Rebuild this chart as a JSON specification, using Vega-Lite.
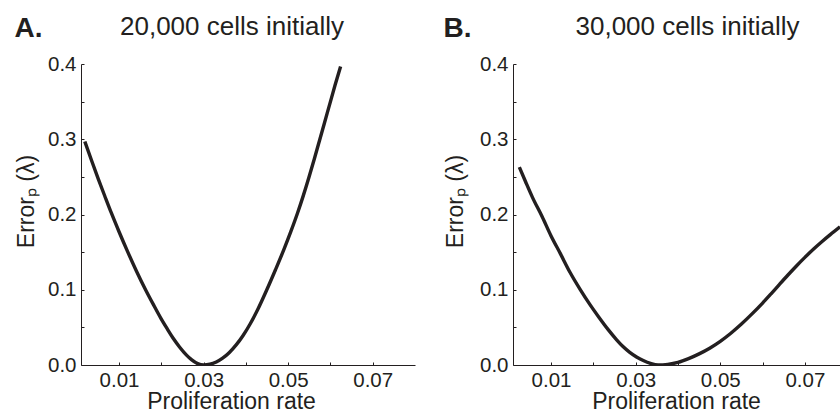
{
  "$schema": "https://vega.github.io/schema/vega-lite/v6.json",
  "padding": {"left": 14, "top": 13, "right": 0, "bottom": 0},
  "bounds": "flush",
  "spacing": 98,
  "background": "white",
  "config": {
    "view": {"stroke": null},
    "font": "Liberation Sans",
    "axis": {
      "domainColor": "#231f20", "tickColor": "#231f20", "labelColor": "#231f20", "titleColor": "#231f20",
      "labelFont": "Liberation Sans", "titleFont": "Liberation Sans",
      "labelFontSize": 20.5, "titleFontSize": 23, "titleFontWeight": "normal",
      "grid": false, "tickSize": -3, "domainWidth": 1, "tickWidth": 1
    }
  },
  "datasets": {
    "a": [
      {"rate": 0.0019, "error": 0.297}, {"rate": 0.0035, "error": 0.2717}, {"rate": 0.0051, "error": 0.247},
      {"rate": 0.0066, "error": 0.2249}, {"rate": 0.0082, "error": 0.2017}, {"rate": 0.0100, "error": 0.1771},
      {"rate": 0.0120, "error": 0.151}, {"rate": 0.0141, "error": 0.125}, {"rate": 0.0163, "error": 0.0997},
      {"rate": 0.0181, "error": 0.0805}, {"rate": 0.0199, "error": 0.062}, {"rate": 0.0214, "error": 0.048},
      {"rate": 0.0228, "error": 0.0355}, {"rate": 0.0243, "error": 0.024}, {"rate": 0.0259, "error": 0.0135},
      {"rate": 0.0272, "error": 0.0068}, {"rate": 0.0286, "error": 0.0018}, {"rate": 0.0300, "error": 0.0},
      {"rate": 0.0315, "error": 0.001}, {"rate": 0.0330, "error": 0.0041}, {"rate": 0.0345, "error": 0.0091},
      {"rate": 0.0361, "error": 0.0167}, {"rate": 0.0377, "error": 0.0267}, {"rate": 0.0393, "error": 0.0389},
      {"rate": 0.0410, "error": 0.0545}, {"rate": 0.0428, "error": 0.0737}, {"rate": 0.0450, "error": 0.1006},
      {"rate": 0.0470, "error": 0.1266}, {"rate": 0.0490, "error": 0.1536}, {"rate": 0.0506, "error": 0.1768},
      {"rate": 0.0522, "error": 0.2016}, {"rate": 0.0536, "error": 0.2254}, {"rate": 0.0549, "error": 0.2492},
      {"rate": 0.0562, "error": 0.2742}, {"rate": 0.0574, "error": 0.298}, {"rate": 0.0586, "error": 0.322},
      {"rate": 0.0598, "error": 0.346}, {"rate": 0.0611, "error": 0.372}, {"rate": 0.0624, "error": 0.3967}
    ],
    "b": [
      {"rate": 0.0025, "error": 0.263}, {"rate": 0.0040, "error": 0.2432}, {"rate": 0.0056, "error": 0.2228},
      {"rate": 0.0079, "error": 0.197}, {"rate": 0.0100, "error": 0.1715}, {"rate": 0.0122, "error": 0.148},
      {"rate": 0.0145, "error": 0.1229}, {"rate": 0.0169, "error": 0.1002}, {"rate": 0.0192, "error": 0.0802},
      {"rate": 0.0213, "error": 0.0635}, {"rate": 0.0235, "error": 0.047}, {"rate": 0.0255, "error": 0.0335},
      {"rate": 0.0270, "error": 0.0245}, {"rate": 0.0286, "error": 0.0168}, {"rate": 0.0302, "error": 0.0107},
      {"rate": 0.0318, "error": 0.006}, {"rate": 0.0335, "error": 0.0022}, {"rate": 0.0353, "error": 0.0},
      {"rate": 0.0376, "error": 0.00085}, {"rate": 0.0400, "error": 0.0035}, {"rate": 0.0425, "error": 0.0085},
      {"rate": 0.0450, "error": 0.0148}, {"rate": 0.0475, "error": 0.0223}, {"rate": 0.0500, "error": 0.0314},
      {"rate": 0.0525, "error": 0.0422}, {"rate": 0.0550, "error": 0.0544}, {"rate": 0.0575, "error": 0.0679},
      {"rate": 0.0600, "error": 0.0823}, {"rate": 0.0620, "error": 0.0946}, {"rate": 0.0640, "error": 0.1072},
      {"rate": 0.0660, "error": 0.1196}, {"rate": 0.0680, "error": 0.1316}, {"rate": 0.0700, "error": 0.143},
      {"rate": 0.0720, "error": 0.1538}, {"rate": 0.0740, "error": 0.1638}, {"rate": 0.0760, "error": 0.1732},
      {"rate": 0.0783, "error": 0.1836}
    ]
  },
  "hconcat": [
    {
      "width": 334, "height": 301,
      "data": {"name": "a"},
      "layer": [
        {
          "mark": {"type": "line", "stroke": "#231f20", "strokeWidth": 3.4, "clip": true, "interpolate": "monotone"},
          "encoding": {
            "x": {"field": "rate", "type": "quantitative",
              "scale": {"domain": [0.001, 0.08], "nice": false, "zero": false},
              "axis": {"orient": "bottom", "values": [0.01, 0.02, 0.03, 0.04, 0.05, 0.06, 0.07],
                "labelExpr": "round(datum.value*100) % 2 == 1 ? format(datum.value, '.2f') : ''",
                "labelBaseline": "alphabetic", "labelPadding": 24,
                "title": "Proliferation rate", "titleX": 150, "titleY": 43, "titleBaseline": "alphabetic", "titleAlign": "center"}},
            "y": {"field": "error", "type": "quantitative",
              "scale": {"domain": [0, 0.4], "nice": false},
              "axis": {"values": [0, 0.05, 0.1, 0.15, 0.2, 0.25, 0.3, 0.35, 0.4],
                "labelExpr": "round(datum.value*20) % 2 == 0 ? format(datum.value, '.1f') : ''",
                "labelPadding": 8,
                "title": "Errorₚ (λ)", "titleX": -55, "titleY": 137, "titleAngle": 270, "titleBaseline": "middle", "titleAlign": "center"}}
          }
        },
        {
          "mark": {"type": "line", "strokeOpacity": 0},
          "encoding": {
            "x": {"field": "rate", "type": "quantitative",
              "axis": {"orient": "top", "title": "A.", "domain": false, "ticks": false, "labels": false,
                "titleX": -67, "titleY": -28, "titleAlign": "left", "titleBaseline": "alphabetic", "titleAngle": 0,
                "titleFontSize": 28, "titleFontWeight": "bold"}},
            "y": {"field": "error", "type": "quantitative",
              "axis": {"orient": "right", "title": "20,000 cells initially", "domain": false, "ticks": false, "labels": false,
                "titleX": -183.5, "titleY": -30, "titleAlign": "center", "titleBaseline": "alphabetic", "titleAngle": 0,
                "titleFontSize": 26}}
          }
        }
      ],
      "resolve": {"axis": {"x": "independent", "y": "independent"}}
    },
    {
      "width": 327, "height": 301,
      "data": {"name": "b"},
      "layer": [
        {
          "mark": {"type": "line", "stroke": "#231f20", "strokeWidth": 3.4, "clip": true, "interpolate": "monotone"},
          "encoding": {
            "x": {"field": "rate", "type": "quantitative",
              "scale": {"domain": [0.001, 0.0783], "nice": false, "zero": false},
              "axis": {"orient": "bottom", "values": [0.01, 0.02, 0.03, 0.04, 0.05, 0.06, 0.07],
                "labelExpr": "round(datum.value*100) % 2 == 1 ? format(datum.value, '.2f') : ''",
                "labelBaseline": "alphabetic", "labelPadding": 24,
                "title": "Proliferation rate", "titleX": 163, "titleY": 43, "titleBaseline": "alphabetic", "titleAlign": "center"}},
            "y": {"field": "error", "type": "quantitative",
              "scale": {"domain": [0, 0.4], "nice": false},
              "axis": {"values": [0, 0.05, 0.1, 0.15, 0.2, 0.25, 0.3, 0.35, 0.4],
                "labelExpr": "round(datum.value*20) % 2 == 0 ? format(datum.value, '.1f') : ''",
                "labelPadding": 8,
                "title": "Errorₚ (λ)", "titleX": -58, "titleY": 137, "titleAngle": 270, "titleBaseline": "middle", "titleAlign": "center"}}
          }
        },
        {
          "mark": {"type": "line", "strokeOpacity": 0},
          "encoding": {
            "x": {"field": "rate", "type": "quantitative",
              "axis": {"orient": "top", "title": "B.", "domain": false, "ticks": false, "labels": false,
                "titleX": -70, "titleY": -28, "titleAlign": "left", "titleBaseline": "alphabetic", "titleAngle": 0,
                "titleFontSize": 28, "titleFontWeight": "bold"}},
            "y": {"field": "error", "type": "quantitative",
              "axis": {"orient": "right", "title": "30,000 cells initially", "domain": false, "ticks": false, "labels": false,
                "titleX": -153, "titleY": -30, "titleAlign": "center", "titleBaseline": "alphabetic", "titleAngle": 0,
                "titleFontSize": 26}}
          }
        }
      ],
      "resolve": {"axis": {"x": "independent", "y": "independent"}}
    }
  ]
}
